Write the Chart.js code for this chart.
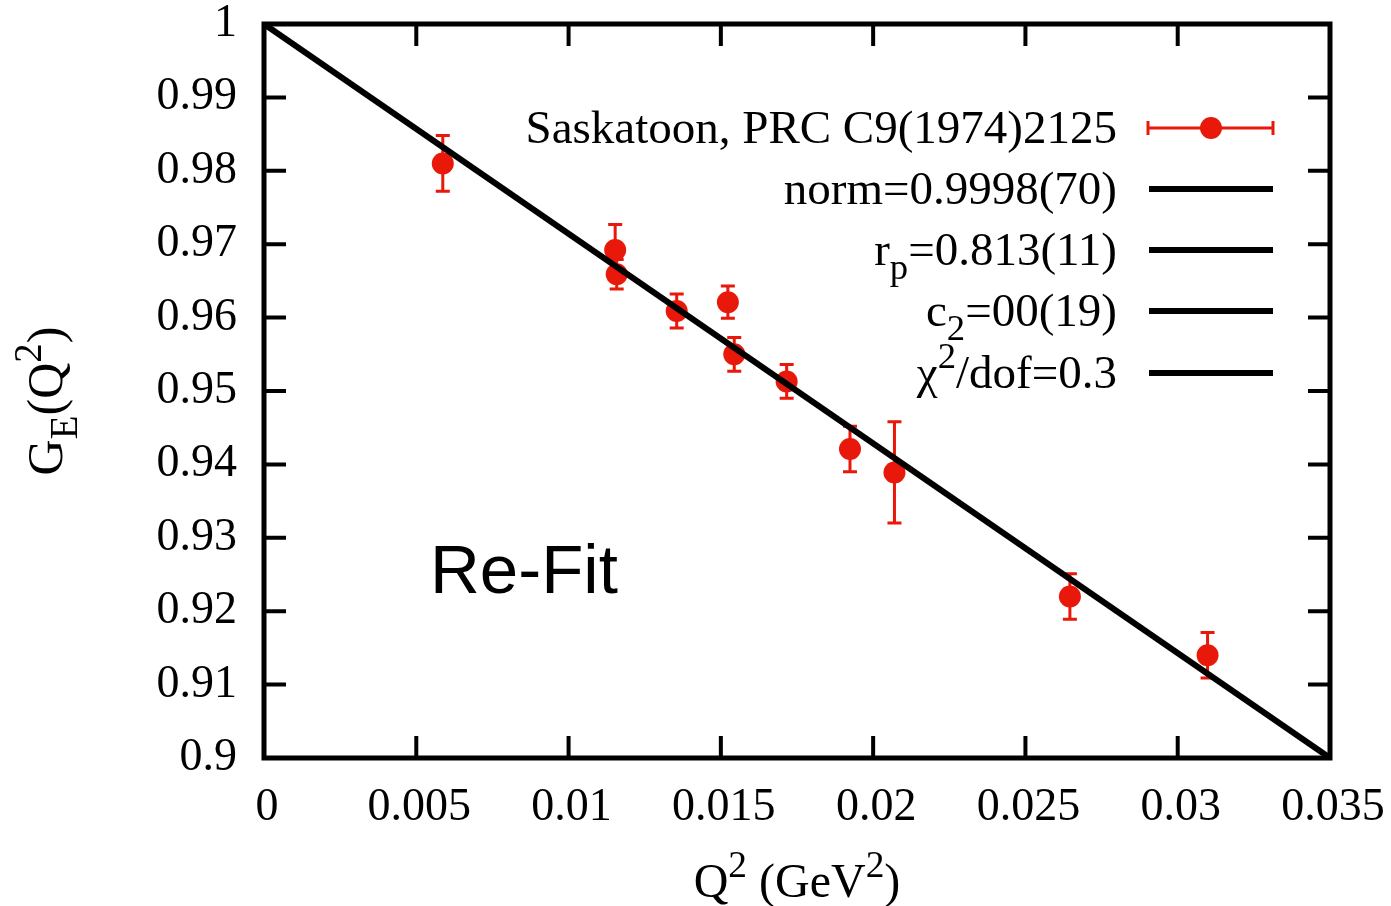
<!DOCTYPE html>
<html>
<head>
<meta charset="utf-8">
<script src="https://cdn.jsdelivr.net/npm/chart.js@4.4.1/dist/chart.umd.min.js"></script>
<style>
  html, body { margin: 0; padding: 0; background: #fff; }
</style>
</head>
<body>
<canvas id="geChart" width="1391" height="906"></canvas>
<script>
// ---- data ----
const q2 = [0.00587, 0.01153, 0.01158, 0.01355, 0.01523, 0.01544, 0.01716, 0.01924, 0.02070, 0.02646, 0.03098];
const ge = [0.9810, 0.9692, 0.9659, 0.9609, 0.9621, 0.9550, 0.9513, 0.9421, 0.9389, 0.9220, 0.9140];
const geErr = [0.0038, 0.0035, 0.0020, 0.0023, 0.0022, 0.0023, 0.0023, 0.0031, 0.0069, 0.0031, 0.0031];

// straight fit line
const fitQ2 = [0, 0.035];
const fitGE = [1.0, 0.9];

// axis ticks
const xTickVals = [0, 0.005, 0.01, 0.015, 0.02, 0.025, 0.03, 0.035];
const xTickLabels = ["0", "0.005", "0.01", "0.015", "0.02", "0.025", "0.03", "0.035"];
const yTickVals = [0.9, 0.91, 0.92, 0.93, 0.94, 0.95, 0.96, 0.97, 0.98, 0.99, 1.0];
const yTickLabels = ["0.9", "0.91", "0.92", "0.93", "0.94", "0.95", "0.96", "0.97", "0.98", "0.99", "1"];

// legend entries: [text, "sub"|"sup"|undefined]
const legendLabels = [
  [["Saskatoon, PRC C9(1974)2125"]],
  [["norm=0.9998(70)"]],
  [["r"], ["p", "sub"], ["=0.813(11)"]],
  [["c"], ["2", "sub"], ["=00(19)"]],
  [["\u03c7"], ["2", "sup"], ["/dof=0.3"]]
];
const xTitle = [["Q"], ["2", "sup"], [" (GeV"], ["2", "sup"], [")"]];
const yTitle = [["G"], ["E", "sub"], ["(Q"], ["2", "sup"], [")"]];
const panelTag = "Re-Fit";

const RED = "#e8190a";
const SERIF = "'Liberation Serif', 'DejaVu Serif', serif";

// ---- rich text helpers (sub/superscripts) ----
function partFont(size, kind) {
  const s = kind ? size * 0.78 : size;
  return s + "px " + SERIF;
}
function richWidth(ctx, parts, size) {
  let w = 0;
  parts.forEach(p => { ctx.font = partFont(size, p[1]); w += ctx.measureText(p[0]).width; });
  return w;
}
function drawRich(ctx, parts, x, y, size, align) {
  const w = richWidth(ctx, parts, size);
  let cx = align === "right" ? x - w : align === "center" ? x - w / 2 : x;
  ctx.textAlign = "left";
  ctx.textBaseline = "alphabetic";
  parts.forEach(p => {
    ctx.font = partFont(size, p[1]);
    let dy = 0;
    if (p[1] === "sub") dy = size * 0.3;
    if (p[1] === "sup") dy = -size * 0.42;
    ctx.fillText(p[0], cx, y + dy);
    cx += ctx.measureText(p[0]).width;
  });
}

function errorBar(ctx, x, yTop, yBot, cap) {
  ctx.beginPath();
  ctx.moveTo(x, yTop); ctx.lineTo(x, yBot);
  ctx.moveTo(x - cap, yTop); ctx.lineTo(x + cap, yTop);
  ctx.moveTo(x - cap, yBot); ctx.lineTo(x + cap, yBot);
  ctx.stroke();
}

// vertical error bars, drawn under the markers
const errorBarsPlugin = {
  id: "errorBars",
  beforeDatasetsDraw(chart) {
    const { ctx, scales: { x, y } } = chart;
    ctx.save();
    ctx.strokeStyle = RED;
    ctx.lineWidth = 3;
    q2.forEach((q, i) => {
      errorBar(ctx, x.getPixelForValue(q), y.getPixelForValue(ge[i] + geErr[i]), y.getPixelForValue(ge[i] - geErr[i]), 7);
    });
    ctx.restore();
  }
};

// gnuplot-style frame, inward ticks, labels, titles and key
const framePlugin = {
  id: "frame",
  afterDraw(chart) {
    const { ctx, chartArea: a, scales: { x, y } } = chart;
    ctx.save();
    ctx.strokeStyle = "#000";
    ctx.fillStyle = "#000";

    // ticks on all four sides
    ctx.lineWidth = 4;
    const tl = 22;
    ctx.beginPath();
    xTickVals.forEach(v => {
      const px = x.getPixelForValue(v);
      ctx.moveTo(px, a.bottom); ctx.lineTo(px, a.bottom - tl);
      ctx.moveTo(px, a.top); ctx.lineTo(px, a.top + tl);
    });
    yTickVals.forEach(v => {
      const py = y.getPixelForValue(v);
      ctx.moveTo(a.left, py); ctx.lineTo(a.left + tl, py);
      ctx.moveTo(a.right, py); ctx.lineTo(a.right - tl, py);
    });
    ctx.stroke();

    ctx.lineWidth = 5;
    ctx.strokeRect(a.left, a.top, a.right - a.left, a.bottom - a.top);

    // tick labels
    ctx.font = "46px " + SERIF;
    ctx.textAlign = "right";
    ctx.textBaseline = "middle";
    yTickVals.forEach((v, i) => ctx.fillText(yTickLabels[i], a.left - 27, y.getPixelForValue(v)));
    ctx.textAlign = "center";
    ctx.textBaseline = "alphabetic";
    xTickVals.forEach((v, i) => ctx.fillText(xTickLabels[i], x.getPixelForValue(v) + 3, 820));

    // axis titles
    drawRich(ctx, xTitle, (a.left + a.right) / 2, 897, 48, "center");
    ctx.save();
    ctx.translate(62, (a.top + a.bottom) / 2 + 10);
    ctx.rotate(-Math.PI / 2);
    drawRich(ctx, yTitle, 0, 0, 50, "center");
    ctx.restore();

    // key
    const rowY = [128, 189, 250, 311, 373];
    legendLabels.forEach((parts, i) => {
      drawRich(ctx, parts, 1117, rowY[i] + 15, 47, "right");
      if (i === 0) {
        ctx.strokeStyle = RED;
        ctx.lineWidth = 3;
        ctx.beginPath();
        ctx.moveTo(1148, rowY[i]); ctx.lineTo(1273, rowY[i]);
        ctx.moveTo(1148, rowY[i] - 7); ctx.lineTo(1148, rowY[i] + 7);
        ctx.moveTo(1273, rowY[i] - 7); ctx.lineTo(1273, rowY[i] + 7);
        ctx.stroke();
        ctx.fillStyle = RED;
        ctx.beginPath();
        ctx.arc(1211, rowY[i], 11, 0, Math.PI * 2);
        ctx.fill();
        ctx.fillStyle = "#000";
      } else {
        ctx.strokeStyle = "#000";
        ctx.lineWidth = 6;
        ctx.beginPath();
        ctx.moveTo(1149, rowY[i]); ctx.lineTo(1273, rowY[i]);
        ctx.stroke();
      }
    });

    // panel tag
    ctx.fillStyle = "#000";
    ctx.font = "69px 'Liberation Sans', Arimo, sans-serif";
    ctx.textAlign = "left";
    ctx.textBaseline = "alphabetic";
    ctx.fillText(panelTag, 430, 593);
    ctx.restore();
  }
};

new Chart(document.getElementById("geChart"), {
  type: "scatter",
  data: {
    datasets: [
      {
        type: "line",
        label: "fit",
        data: fitQ2.map((q, i) => ({ x: q, y: fitGE[i] })),
        borderColor: "#000",
        borderWidth: 6,
        pointRadius: 0,
        tension: 0,
        order: 0
      },
      {
        label: "Saskatoon, PRC C9(1974)2125",
        data: q2.map((q, i) => ({ x: q, y: ge[i] })),
        backgroundColor: RED,
        borderWidth: 0,
        pointRadius: 11,
        order: 1
      }
    ]
  },
  plugins: [errorBarsPlugin, framePlugin],
  options: {
    responsive: false,
    animation: false,
    layout: { padding: { left: 264, top: 24, right: 61, bottom: 148 } },
    scales: {
      x: { type: "linear", display: false, min: 0, max: 0.035 },
      y: { type: "linear", display: false, min: 0.9, max: 1.0 }
    },
    plugins: {
      legend: { display: false },
      tooltip: { enabled: false }
    }
  }
});
</script>
</body>
</html>
